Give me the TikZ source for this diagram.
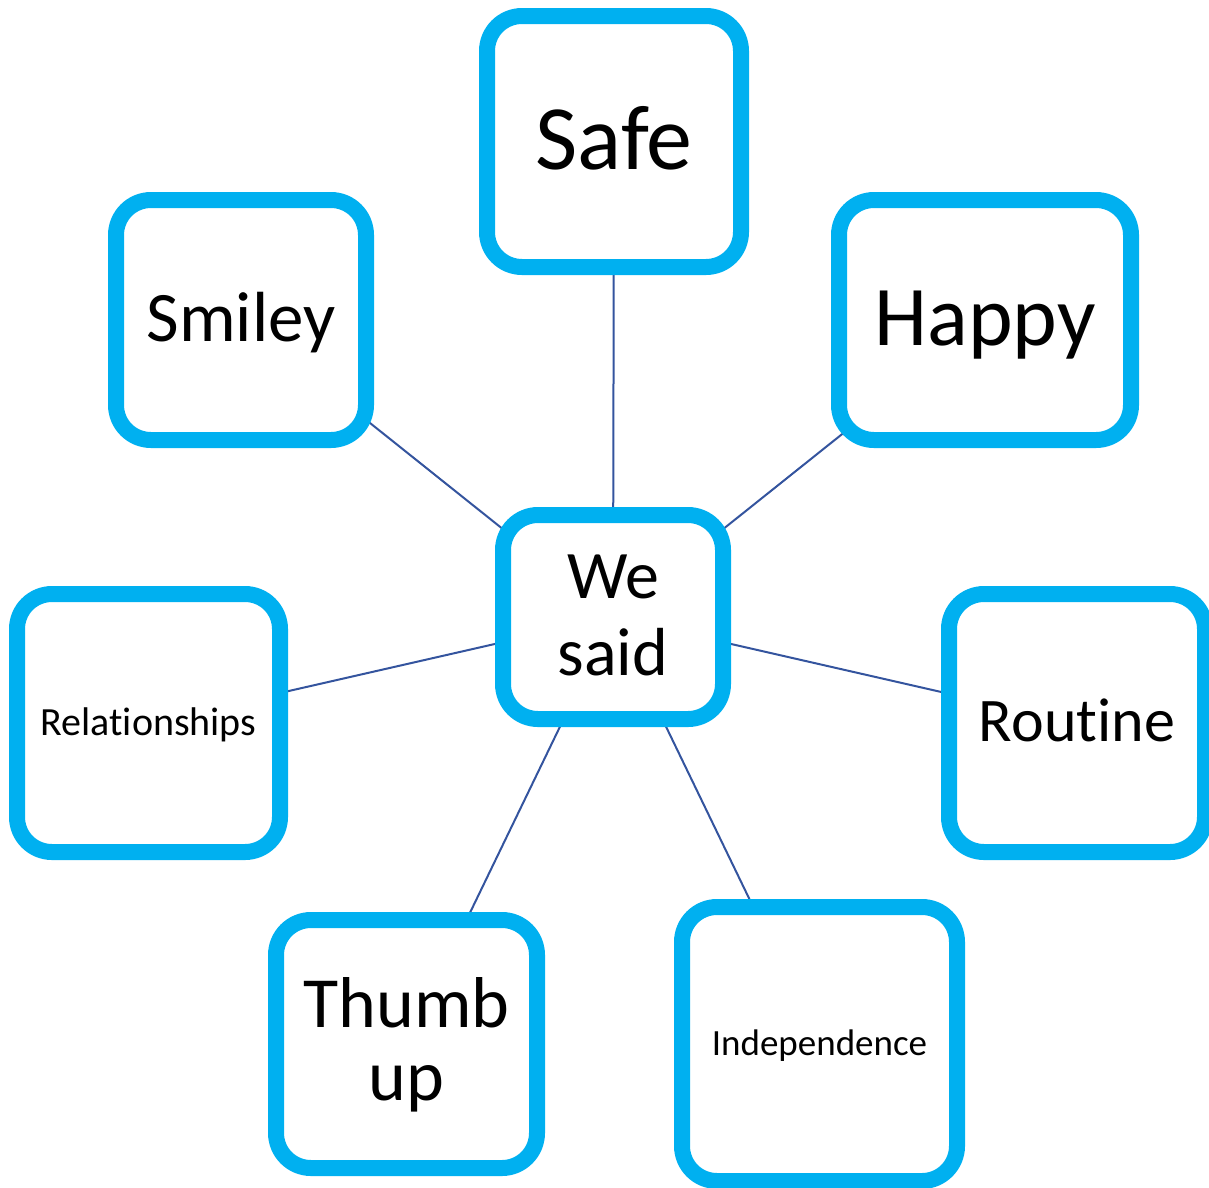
\documentclass[tikz,border=0pt]{standalone}
\usepackage{fontspec}
\setmainfont{Carlito}[Ligatures=NoCommon]
\usetikzlibrary{backgrounds}
\definecolor{boxblue}{RGB}{0,176,240}
\definecolor{linkblue}{RGB}{52,84,158}
\tikzset{
  card/.style={draw=boxblue, line width=16pt, fill=white, rounded corners=35pt,
    inner sep=0pt, outer sep=0pt, align=center, text=black},
  link/.style={draw=linkblue, line width=2pt}
}
\begin{document}
\begin{tikzpicture}[x=1pt,y=-1pt]
\useasboundingbox (0,0) rectangle (1209,1187);
\node[card, minimum width=254pt, minimum height=251pt, font=\fontsize{92}{110}\selectfont, text height=73.6pt, text depth=18.4pt] (safe) at (614,141.5) {Safe};
\node[card, minimum width=250pt, minimum height=240pt, font=\fontsize{71}{85}\selectfont, text height=56.8pt, text depth=14.2pt] (smiley) at (241,320) {Smiley};
\node[card, minimum width=292pt, minimum height=240pt, font=\fontsize{85}{102}\selectfont, text height=68pt, text depth=17pt] (happy) at (985,320) {Happy};
\node[card, minimum width=220pt, minimum height=204pt, font=\fontsize{68}{77}\selectfont, text height=129.6pt, text depth=13.6pt] (wesaid) at (613,617) {We\\said};
\node[card, minimum width=263pt, minimum height=258pt, font=\fontsize{40}{48}\selectfont, text height=32pt, text depth=8pt] (rel) at (148.5,723) {Relationships};
\node[card, minimum width=256pt, minimum height=258pt, font=\fontsize{62}{74}\selectfont, text height=49.6pt, text depth=12.4pt] (routine) at (1077,723) {Routine};
\node[card, minimum width=261pt, minimum height=248pt, font=\fontsize{72}{73}\selectfont, text height=126.4pt, text depth=14.4pt] (thumb) at (406.5,1044) {Thumb\\up};
\node[card, minimum width=275pt, minimum height=274pt, font=\fontsize{37}{44}\selectfont, text height=29.6pt, text depth=7.4pt] (indep) at (819.5,1044) {Independence};
\begin{pgfonlayer}{background}
\draw[link] (wesaid.center) -- (safe.center);
\draw[link] (wesaid.center) -- (smiley.center);
\draw[link] (wesaid.center) -- (happy.center);
\draw[link] (wesaid.center) -- (rel.center);
\draw[link] (wesaid.center) -- (routine.center);
\draw[link] (wesaid.center) -- (thumb.center);
\draw[link] (wesaid.center) -- (indep.center);
\end{pgfonlayer}
\end{tikzpicture}
\end{document}
